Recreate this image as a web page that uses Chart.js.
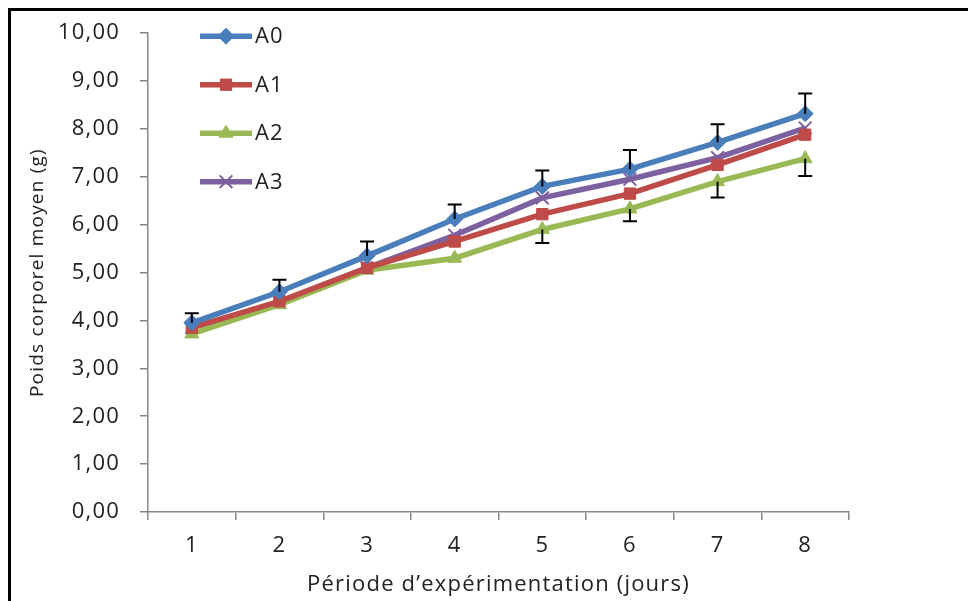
<!doctype html>
<html lang="fr">
<head>
    <meta charset="utf-8">
    <title>Poids corporel moyen</title>
    <script src="https://cdn.jsdelivr.net/npm/chart.js@4.4.1/dist/chart.umd.min.js"></script>
    <style>
        html, body { margin: 0; padding: 0; background: #fff; overflow: hidden; }
        #frame {
            position: absolute; left: 8px; top: 8px; width: 2000px; height: 2000px;
            border-top: 3px solid #000; border-left: 3px solid #000;
        }
        #chart { position: absolute; left: 0; top: 0; }
    </style>
</head>
<body>
<div id="frame"></div>
<canvas id="chart" width="968" height="601"></canvas>
<script>
    const days = ['1', '2', '3', '4', '5', '6', '7', '8'];
    const seriesNames = ['A0', 'A1', 'A2', 'A3'];

    const a0 = [3.95, 4.60, 5.35, 6.12, 6.80, 7.16, 7.72, 8.32];
    const a1 = [3.85, 4.40, 5.10, 5.65, 6.22, 6.65, 7.25, 7.88];
    const a2 = [3.72, 4.33, 5.05, 5.30, 5.90, 6.33, 6.90, 7.38];
    const a3 = [3.85, 4.38, 5.10, 5.78, 6.56, 6.95, 7.40, 8.02];

    // error bars: A0 drawn upward, A2 drawn downward
    const a0ErrUp = [0.20, 0.25, 0.30, 0.30, 0.33, 0.40, 0.38, 0.42];
    const a2ErrDown = [0.00, 0.00, 0.00, 0.00, 0.28, 0.26, 0.33, 0.36];

    const yTicks = [0, 1, 2, 3, 4, 5, 6, 7, 8, 9, 10];

    const colors = ['#4a7ebb', '#be4b48', '#98b954', '#7d60a0'];
    const shapes = ['rectRot', 'rect', 'triangle', 'crossRot'];
    const radii = [8, 8, 8, 9];

    const FONT = "'Open Sans', 'Noto Sans', sans-serif";
    const SPACING = '1.2px';

    function makeSet(i, data, up, down) {
        return {
            label: seriesNames[i],
            data: data,
            errUp: up,
            errDown: down,
            borderColor: colors[i],
            backgroundColor: colors[i],
            pointBackgroundColor: colors[i],
            pointBorderColor: colors[i],
            pointStyle: shapes[i],
            pointRadius: radii[i],
            pointBorderWidth: shapes[i] === 'crossRot' ? 2 : 1,
            borderWidth: 5.5,
            tension: 0
        };
    }

    // the picture is a bit wide, so the text is spaced out a little
    const spacing = {
        id: 'spacing',
        beforeUpdate(chart) { chart.ctx.letterSpacing = SPACING; },
        beforeDraw(chart) { chart.ctx.letterSpacing = SPACING; }
    };

    const errorBars = {
        id: 'errorBars',
        afterDatasetsDraw(chart) {
            const ctx = chart.ctx;
            const y = chart.scales.y;
            ctx.save();
            ctx.strokeStyle = '#000';
            ctx.lineWidth = 2;
            chart.data.datasets.forEach((ds, di) => {
                const meta = chart.getDatasetMeta(di);
                meta.data.forEach((pt, i) => {
                    const v = ds.data[i];
                    const ends = [];
                    if (ds.errUp && ds.errUp[i] > 0) ends.push(v + ds.errUp[i]);
                    if (ds.errDown && ds.errDown[i] > 0) ends.push(v - ds.errDown[i]);
                    ends.forEach(e => {
                        const ye = y.getPixelForValue(e);
                        ctx.beginPath();
                        ctx.moveTo(pt.x, pt.y);
                        ctx.lineTo(pt.x, ye);
                        ctx.moveTo(pt.x - 7, ye);
                        ctx.lineTo(pt.x + 7, ye);
                        ctx.stroke();
                    });
                });
            });
            ctx.restore();
        }
    };

    const insideLegend = {
        id: 'insideLegend',
        afterDraw(chart) {
            const ctx = chart.ctx;
            const area = chart.chartArea;
            ctx.save();
            chart.data.datasets.forEach((ds, i) => {
                const yy = area.top + 3 + i * 48.5;
                const x0 = area.left + 52, x1 = area.left + 104;
                ctx.strokeStyle = ds.borderColor;
                ctx.lineWidth = 5.5;
                ctx.beginPath();
                ctx.moveTo(x0, yy);
                ctx.lineTo(x1, yy);
                ctx.stroke();
                ctx.fillStyle = ds.pointBackgroundColor;
                ctx.strokeStyle = ds.pointBorderColor;
                ctx.lineWidth = ds.pointBorderWidth;
                Chart.helpers.drawPoint(ctx, {pointStyle: ds.pointStyle, radius: ds.pointRadius, rotation: 0, borderWidth: ds.pointBorderWidth}, (x0 + x1) / 2, yy);
                ctx.fillStyle = '#222';
                ctx.font = '22px ' + FONT;
                ctx.textBaseline = 'middle';
                ctx.textAlign = 'left';
                ctx.fillText(ds.label, x1 + 3, yy + 1);
            });
            ctx.restore();
        }
    };

    new Chart(document.getElementById('chart'), {
        type: 'line',
        data: {
            labels: days,
            datasets: [
                makeSet(0, a0, a0ErrUp, null),
                makeSet(1, a1, null, null),
                makeSet(2, a2, null, a2ErrDown),
                makeSet(3, a3, null, null)
            ]
        },
        options: {
            responsive: false,
            animation: false,
            devicePixelRatio: 1,
            layout: {padding: {left: 0, top: 30, right: 119, bottom: 0}},
            plugins: {legend: {display: false}, tooltip: {enabled: false}},
            scales: {
                x: {
                    offset: true,
                    afterFit(scale) { scale.height = 89; },
                    border: {color: '#868686', width: 1.5},
                    grid: {offset: true, drawOnChartArea: false, tickLength: 8, color: '#868686', lineWidth: 1.5},
                    ticks: {color: '#222', font: {family: FONT, size: 22}, padding: 13},
                    title: {
                        display: true,
                        text: 'Période d\u2019expérimentation (jours)',
                        color: '#222',
                        font: {family: FONT, size: 22},
                        padding: {top: 0, bottom: 3}
                    }
                },
                y: {
                    min: 0,
                    max: 10,
                    afterFit(scale) { scale.width = 148; },
                    afterBuildTicks(scale) { scale.ticks = yTicks.map(v => ({value: v})); },
                    border: {color: '#868686', width: 1.5},
                    grid: {drawOnChartArea: false, tickLength: 8, color: '#868686', lineWidth: 1.5},
                    ticks: {
                        color: '#222',
                        font: {family: FONT, size: 22},
                        padding: 20,
                        callback: v => v.toFixed(2).replace('.', ',')
                    },
                    title: {
                        display: true,
                        text: 'Poids corporel moyen (g)',
                        color: '#222',
                        font: {family: FONT, size: 19},
                        padding: {top: 26, bottom: 0}
                    }
                }
            }
        },
        plugins: [spacing, errorBars, insideLegend]
    });
</script>
</body>
</html>
